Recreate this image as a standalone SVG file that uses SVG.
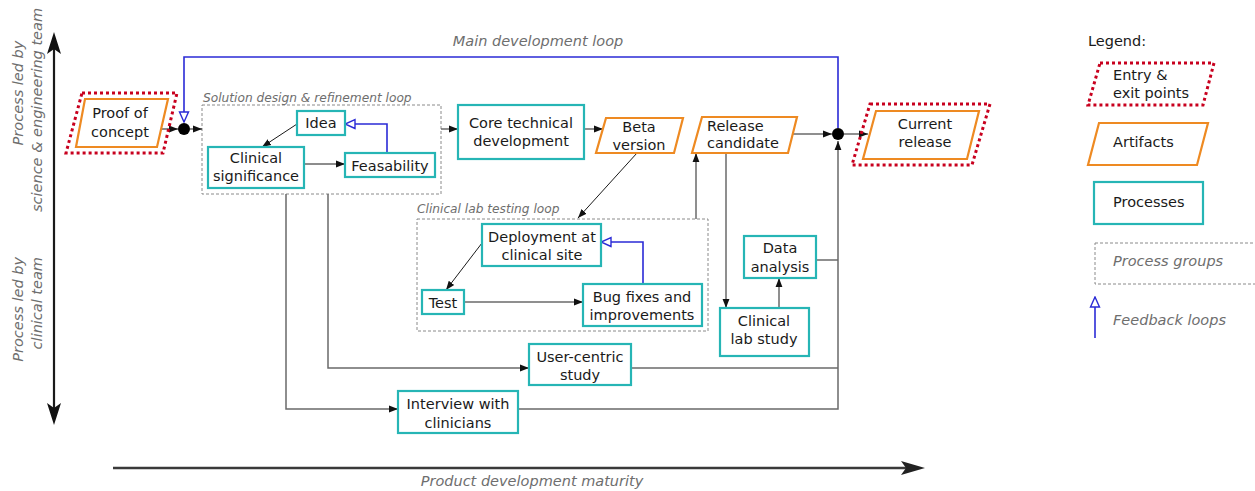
<svg xmlns="http://www.w3.org/2000/svg" width="1255" height="491" viewBox="0 0 1255 491">
  <style>
    text { font-family: "DejaVu Sans", "Liberation Sans", sans-serif; font-size: 14.5px; fill: #1a1a1a; }
    .c { text-anchor: middle; }
    .note { font-style: italic; fill: #6e6e6e; }
    .small { font-size: 12.2px; }
    .proc { fill: #ffffff; stroke: #26b5b5; stroke-width: 2.2; }
    .art { fill: #ffffff; stroke: #ee8a22; stroke-width: 2.2; stroke-linejoin: miter; }
    .entry { fill: none; stroke: #c8001e; stroke-width: 3; stroke-dasharray: 3 3; }
    .group { fill: none; stroke: #8a8a8a; stroke-width: 1; stroke-dasharray: 3 2; }
    .wire { fill: none; stroke: #6a6a6a; stroke-width: 1.5; }
    .thin { fill: none; stroke: #1a1a1a; stroke-width: 1; }
    .fb { fill: none; stroke: #2b2bd6; stroke-width: 1.6; }
    .axis { fill: none; stroke: #1a1a1a; stroke-width: 2.2; }
    .axisH { fill: none; stroke: #3a3a3a; stroke-width: 2.6; }
  </style>
  <defs>
    <marker id="arrow" viewBox="0 0 10 10" refX="10" refY="5" markerWidth="9" markerHeight="9" markerUnits="userSpaceOnUse" orient="auto">
      <path d="M0,1.2 L10,5 L0,8.8 Z" fill="#111"/>
    </marker>
    <marker id="open" viewBox="0 0 12 12" refX="11" refY="6" markerWidth="12" markerHeight="12" markerUnits="userSpaceOnUse" orient="auto">
      <path d="M1,1.5 L11,6 L1,10.5 Z" fill="#ffffff" stroke="#2b2bd6" stroke-width="1.4"/>
    </marker>
  </defs>

  <!-- axes -->
  <g id="axes">
    <line class="axis" x1="54" y1="40" x2="54" y2="417"/>
    <path d="M54,32 L61,54 L54,49 L47,54 Z" fill="#111"/>
    <path d="M54,425 L61,403 L54,408 L47,403 Z" fill="#111"/>
    <line class="axisH" x1="113" y1="468" x2="915" y2="468"/>
    <path d="M925,468 L901,461 L906,468 L901,475 Z" fill="#222"/>
    <text class="note c" transform="translate(23,93) rotate(-90)">Process led by</text>
    <text class="note c" transform="translate(42,110) rotate(-90)">science &amp; engineering team</text>
    <text class="note" text-anchor="end" transform="translate(23,257) rotate(-90)">Process led by</text>
    <text class="note" text-anchor="end" transform="translate(42,257) rotate(-90)">clinical team</text>
    <text class="note c" x="532" y="486">Product development maturity</text>
  </g>

  <!-- process groups -->
  <g id="group-solution">
    <rect class="group" x="202" y="105" width="239" height="89"/>
    <text class="note small" x="203" y="102">Solution design &amp; refinement loop</text>
  </g>
  <g id="group-lab">
    <rect class="group" x="417" y="219" width="291" height="112"/>
    <text class="note small" x="417" y="213">Clinical lab testing loop</text>
  </g>

  <!-- connectors -->
  <g id="connectors">
    <!-- main development loop -->
    <path class="fb" d="M838,128 L838,57 L184,57 L184,122" marker-end="url(#open)"/>
    <text class="note c" x="538" y="46">Main development loop</text>
    <line class="thin" x1="155" y1="129" x2="178" y2="129" marker-end="url(#arrow)"/>
    <line class="thin" x1="190" y1="129" x2="202" y2="129" marker-end="url(#arrow)"/>
    <!-- solution loop internals -->
    <line class="thin" x1="297" y1="124" x2="262" y2="147" marker-end="url(#arrow)"/>
    <line class="thin" x1="304" y1="164" x2="345" y2="164" marker-end="url(#arrow)"/>
    <path class="fb" d="M387,153 L387,124 L345,124" marker-end="url(#open)"/>
    <!-- forward chain -->
    <line class="wire" x1="441" y1="129" x2="458" y2="129" marker-end="url(#arrow)"/>
    <line class="wire" x1="584" y1="129" x2="603" y2="129" marker-end="url(#arrow)"/>
    <line class="thin" x1="637" y1="153" x2="578" y2="218" marker-end="url(#arrow)"/>
    <line class="wire" x1="696" y1="219" x2="696" y2="153" marker-end="url(#arrow)"/>
    <line class="wire" x1="726" y1="153" x2="726" y2="308" marker-end="url(#arrow)"/>
    <line class="wire" x1="793" y1="134" x2="832" y2="134" marker-end="url(#arrow)"/>
    <line class="wire" x1="844" y1="134" x2="868" y2="134" marker-end="url(#arrow)"/>
    <!-- lab loop internals -->
    <line class="thin" x1="482" y1="243" x2="446" y2="290" marker-end="url(#arrow)"/>
    <line class="wire" x1="464" y1="302" x2="583" y2="302" marker-end="url(#arrow)"/>
    <path class="fb" d="M643,284 L643,242 L601,242" marker-end="url(#open)"/>
    <!-- clinical study branch -->
    <line class="wire" x1="779" y1="308" x2="779" y2="278" marker-end="url(#arrow)"/>
    <line class="wire" x1="816" y1="260" x2="838" y2="260"/>
    <!-- studies with clinical team -->
    <path class="wire" d="M328,194 L328,368 L529,368" marker-end="url(#arrow)"/>
    <path class="wire" d="M286,194 L286,409 L398,409" marker-end="url(#arrow)"/>
    <line class="wire" x1="631" y1="368" x2="838" y2="368"/>
    <path class="wire" d="M518,409 L838,409 L838,141" marker-end="url(#arrow)"/>
    <!-- junctions -->
    <circle cx="184" cy="129" r="6" fill="#000"/>
    <circle cx="838" cy="134" r="6" fill="#000"/>
  </g>

  <!-- nodes -->
  <g id="proof-of-concept">
    <path class="entry" d="M82,93 L177,93 L163,153 L66,153 Z"/>
    <path class="art" d="M85,99 L168,99 L157,147 L76,147 Z"/>
    <text class="c" x="120" y="118">Proof of</text>
    <text class="c" x="120" y="137">concept</text>
  </g>
  <g id="idea">
    <rect class="proc" x="297" y="111" width="48" height="24"/>
    <text class="c" x="321" y="128">Idea</text>
  </g>
  <g id="clinical-significance">
    <rect class="proc" x="208" y="147" width="96" height="41"/>
    <text class="c" x="256" y="163">Clinical</text>
    <text class="c" x="256" y="181">significance</text>
  </g>
  <g id="feasability">
    <rect class="proc" x="345" y="153" width="90" height="24"/>
    <text class="c" x="390" y="171">Feasability</text>
  </g>
  <g id="core-technical-development">
    <rect class="proc" x="458" y="105" width="126" height="54"/>
    <text class="c" x="521" y="128">Core technical</text>
    <text class="c" x="521" y="146">development</text>
  </g>
  <g id="beta-version">
    <path class="art" d="M606,118 L683,118 L674,153 L596,153 Z"/>
    <text class="c" x="639" y="132">Beta</text>
    <text class="c" x="639" y="150">version</text>
  </g>
  <g id="release-candidate">
    <path class="art" d="M702,117 L797,117 L788,153 L692,153 Z"/>
    <text x="707" y="131">Release</text>
    <text x="707" y="148">candidate</text>
  </g>
  <g id="current-release">
    <path class="entry" d="M870,104 L990,104 L972,165 L852,165 Z"/>
    <path class="art" d="M876,111 L979,111 L967,159 L863,159 Z"/>
    <text class="c" x="925" y="129">Current</text>
    <text class="c" x="925" y="147">release</text>
  </g>
  <g id="deployment">
    <rect class="proc" x="482" y="224" width="119" height="42"/>
    <text class="c" x="542" y="242">Deployment at</text>
    <text class="c" x="542" y="260">clinical site</text>
  </g>
  <g id="test">
    <rect class="proc" x="422" y="290" width="42" height="24"/>
    <text class="c" x="443" y="308">Test</text>
  </g>
  <g id="bug-fixes">
    <rect class="proc" x="583" y="284" width="119" height="42"/>
    <text class="c" x="642" y="302">Bug fixes and</text>
    <text class="c" x="642" y="320">improvements</text>
  </g>
  <g id="data-analysis">
    <rect class="proc" x="744" y="236" width="72" height="42"/>
    <text class="c" x="780" y="253">Data</text>
    <text class="c" x="780" y="272">analysis</text>
  </g>
  <g id="clinical-lab-study">
    <rect class="proc" x="720" y="308" width="89" height="48"/>
    <text class="c" x="764" y="326">Clinical</text>
    <text class="c" x="764" y="344">lab study</text>
  </g>
  <g id="user-centric-study">
    <rect class="proc" x="529" y="344" width="102" height="41"/>
    <text class="c" x="580" y="362">User-centric</text>
    <text class="c" x="580" y="380">study</text>
  </g>
  <g id="interview">
    <rect class="proc" x="398" y="391" width="120" height="42"/>
    <text class="c" x="458" y="409">Interview with</text>
    <text class="c" x="458" y="428">clinicians</text>
  </g>

  <!-- legend -->
  <g id="legend">
    <text x="1088" y="46">Legend:</text>
    <path class="entry" d="M1100,63 L1214,63 L1203,105 L1088,105 Z"/>
    <text x="1113" y="80">Entry &amp;</text>
    <text x="1113" y="98">exit points</text>
    <path class="art" d="M1099,123 L1208,123 L1197,165 L1088,165 Z"/>
    <text x="1113" y="147">Artifacts</text>
    <rect class="proc" x="1094" y="182" width="109" height="42"/>
    <text x="1113" y="207">Processes</text>
    <rect class="group" x="1095" y="243" width="170" height="41"/>
    <text class="note" x="1113" y="266">Process groups</text>
    <line class="fb" x1="1095" y1="338" x2="1095" y2="297" marker-end="url(#open)"/>
    <text class="note" x="1113" y="325">Feedback loops</text>
  </g>
</svg>
